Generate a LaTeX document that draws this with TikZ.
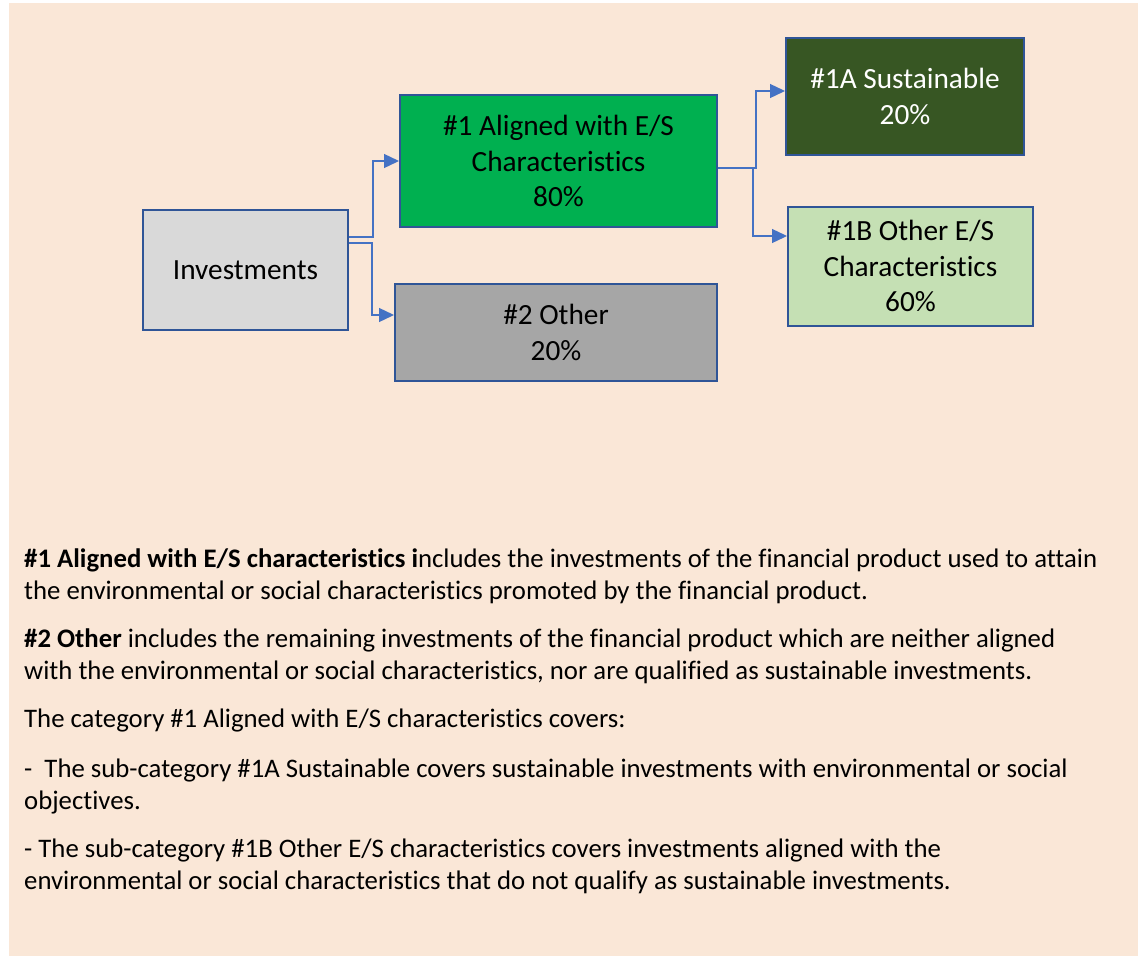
\documentclass[tikz,border=0pt]{standalone}
\usepackage{fontspec}
\setmainfont[Ligatures=NoCommon]{Carlito}
\usetikzlibrary{arrows.meta}
\definecolor{bgpeach}{HTML}{FAE7D7}
\definecolor{boxborder}{HTML}{2F5597}
\definecolor{arrowblue}{HTML}{4472C4}
\definecolor{invgrey}{HTML}{D9D9D9}
\definecolor{aligngreen}{HTML}{00B050}
\definecolor{othergrey}{HTML}{A6A6A6}
\definecolor{sustgreen}{HTML}{375623}
\definecolor{lightgreen}{HTML}{C5E0B4}
\tikzset{
  catbox/.style={draw=boxborder, line width=2pt, inner sep=0pt, align=center,
    font=\fontsize{29.3}{35.5}\selectfont},
  conn/.style={draw=arrowblue, line width=1.3pt, -{Triangle[length=15pt,width=14pt]}},
  bodyline/.style={anchor=base west, inner sep=0pt, font=\fontsize{26.75}{32}\selectfont}
}
\begin{document}
\begin{tikzpicture}[x=1pt,y=-1pt]
\useasboundingbox (0,0) rectangle (1142,956);
\fill[white] (0,0) rectangle (1142,956);
\fill[bgpeach] (9,3) rectangle (1138,956);

\node[catbox, fill=invgrey, minimum width=205pt, minimum height=120pt] (inv) at (245.5,270) {Investments};
\node[catbox, fill=aligngreen, minimum width=317pt, minimum height=132pt] (a1) at (558.5,161) {\#1 Aligned with E/S\\Characteristics\\80\%};
\node[catbox, fill=othergrey, minimum width=322pt, minimum height=97pt] (o2) at (556,332.5) {\#2 Other\\20\%};
\node[catbox, fill=sustgreen, text=white, minimum width=238pt, minimum height=117pt] (s1a) at (905,96.5) {\#1A Sustainable\\20\%};
\node[catbox, fill=lightgreen, minimum width=245pt, minimum height=119pt] (o1b) at (910.5,266) {\#1B Other E/S\\Characteristics\\60\%};

\draw[conn] ([yshift=33pt]inv.east) -- ++(24,0) |- (a1.west);
\draw[conn] ([yshift=27pt]inv.east) -- ++(23,0) |- ([yshift=17.5pt]o2.west);
\draw[conn] ([yshift=-7pt]a1.east) -- ++(38,0) |- ([yshift=5.5pt]s1a.west);
\draw[conn] ([yshift=-7pt]a1.east) -- ++(35,0) |- ([yshift=30pt]o1b.west);

\node[bodyline] (t1) at (24,567) {\textbf{\#1 Aligned with E/S characteristics i}ncludes the investments of the financial product used to attain};
\node[bodyline] (t2) at (24,599) {the environmental or social characteristics promoted by the financial product.};
\node[bodyline] (t3) at (24,647) {\textbf{\#2 Other} includes the remaining investments of the financial product which are neither aligned};
\node[bodyline] (t4) at (24,679) {with the environmental or social characteristics, nor are qualified as sustainable investments.};
\node[bodyline] (t5) at (24,727) {The category \#1 Aligned with E/S characteristics covers:};
\node[bodyline] (t6) at (24,777) {-\ \ The sub-category \#1A Sustainable covers sustainable investments with environmental or social};
\node[bodyline] (t7) at (24,809) {objectives.};
\node[bodyline] (t8) at (24,857) {- The sub-category \#1B Other E/S characteristics covers investments aligned with the};
\node[bodyline] (t9) at (24,889) {environmental or social characteristics that do not qualify as sustainable investments.};
\end{tikzpicture}
\end{document}
